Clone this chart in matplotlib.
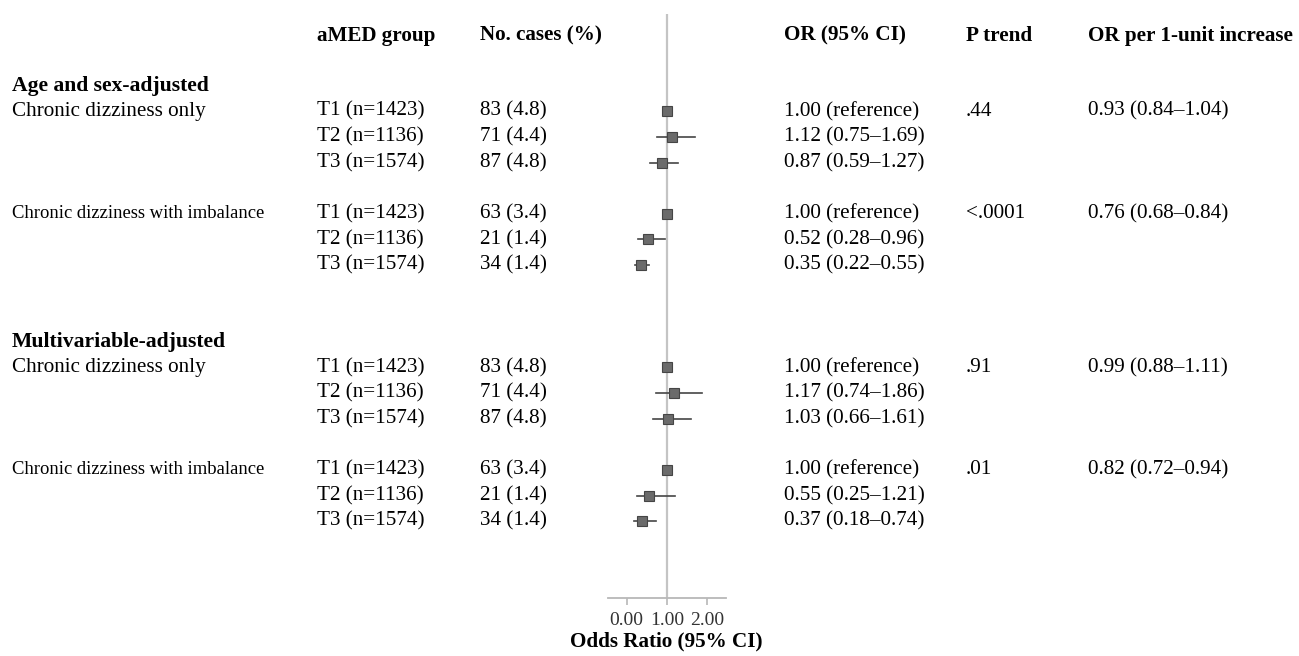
import matplotlib
matplotlib.use("Agg")
import matplotlib.pyplot as plt
from matplotlib.transforms import blended_transform_factory

# ---------------- data ----------------
models = ["Age and sex-adjusted", "Multivariable-adjusted"]
outcomes = ["Chronic dizziness only", "Chronic dizziness with imbalance"]
tertiles = ["T1 (n=1423)", "T2 (n=1136)", "T3 (n=1574)"]
cases = [["83 (4.8)", "71 (4.4)", "87 (4.8)"],
         ["63 (3.4)", "21 (1.4)", "34 (1.4)"]]

or_age = [[1.00, 1.12, 0.87], [1.00, 0.52, 0.35]]
lo_age = [[None, 0.75, 0.59], [None, 0.28, 0.22]]
hi_age = [[None, 1.69, 1.27], [None, 0.96, 0.55]]

or_mv = [[1.00, 1.17, 1.03], [1.00, 0.55, 0.37]]
lo_mv = [[None, 0.74, 0.66], [None, 0.25, 0.18]]
hi_mv = [[None, 1.86, 1.61], [None, 1.21, 0.74]]

p_trend = [[".44", "<.0001"], [".91", ".01"]]
per_unit = [["0.93 (0.84\u20131.04)", "0.76 (0.68\u20130.84)"],
            ["0.99 (0.88\u20131.11)", "0.82 (0.72\u20130.94)"]]

headers = ["aMED group", "No. cases (%)", "OR (95% CI)", "P trend", "OR per 1-unit increase"]
xticks = [0.0, 1.0, 2.0]
xtick_labels = ["0.00", "1.00", "2.00"]

or_all = [or_age, or_mv]
lo_all = [lo_age, lo_mv]
hi_all = [hi_age, hi_mv]

# ---------------- figure ----------------
W, H = 1299, 656
plt.rcParams["font.family"] = ["Liberation Serif", "DejaVu Serif"]
fig = plt.figure(figsize=(W / 100, H / 100), dpi=100)

FS = 15.2
ax_l, ax_r = 607.7, 725.7
ax_t, ax_b = 14, 598
ax = fig.add_axes([ax_l / W, 1 - ax_b / H, (ax_r - ax_l) / W, (ax_b - ax_t) / H])
ax.set_xlim(-0.47, 2.46)
ax.set_ylim(19.0, -3.8)

for s in ["top", "right", "left"]:
    ax.spines[s].set_visible(False)
ax.spines["bottom"].set_color("#b8b8b8")
ax.spines["bottom"].set_linewidth(1.3)
ax.set_yticks([])
ax.set_xticks(xticks)
ax.set_xticklabels(xtick_labels, fontsize=14, color="#333333")
ax.tick_params(axis="x", colors="#b8b8b8", labelcolor="#333333", length=5, width=1.2, pad=5)
ax.set_xlabel("Odds Ratio (95% CI)", fontsize=FS, fontweight="bold", labelpad=2)

ax.axvline(1.0, color="#c4c4c4", lw=1.6, zorder=1)

trans = blended_transform_factory(fig.transFigure, ax.transData)

def T(xpx, y, s, **kw):
    fig.text(xpx / W, y, s, transform=trans, va="center", ha="left", **kw)

col_x = [317, 480, 784, 966, 1088]
header_y = -2.95
for cx, h in zip(col_x, headers):
    T(cx, header_y, h, fontsize=FS, fontweight="bold")

base_rows = [0, 10]
for m, model in enumerate(models):
    b = base_rows[m]
    T(12, b - 1, model, fontsize=15.6, fontweight="bold")
    for o, outcome in enumerate(outcomes):
        r0 = b + 4 * o
        if o == 0:
            T(12, r0, outcome, fontsize=FS)
        else:
            T(12, r0, outcome, fontsize=13.4)
        T(col_x[3], r0, p_trend[m][o], fontsize=FS)
        T(col_x[4], r0, per_unit[m][o], fontsize=FS)
        for t in range(3):
            y = r0 + t
            T(col_x[0], y, tertiles[t], fontsize=FS)
            T(col_x[1], y, cases[o][t], fontsize=FS)
            orv = or_all[m][o][t]
            lo = lo_all[m][o][t]
            hi = hi_all[m][o][t]
            if lo is None:
                T(col_x[2], y, "%.2f (reference)" % orv, fontsize=FS)
            else:
                T(col_x[2], y, "%.2f (%.2f\u2013%.2f)" % (orv, lo, hi), fontsize=FS)
                ax.plot([lo, hi], [y, y], color="#454545", lw=1.2, zorder=2)
            ax.plot([orv], [y], marker="s", markersize=7.6, color="#6b6b6b",
                    markeredgecolor="#454545", markeredgewidth=0.8, zorder=3)

fig.savefig("out.png", dpi=100, facecolor="white")
